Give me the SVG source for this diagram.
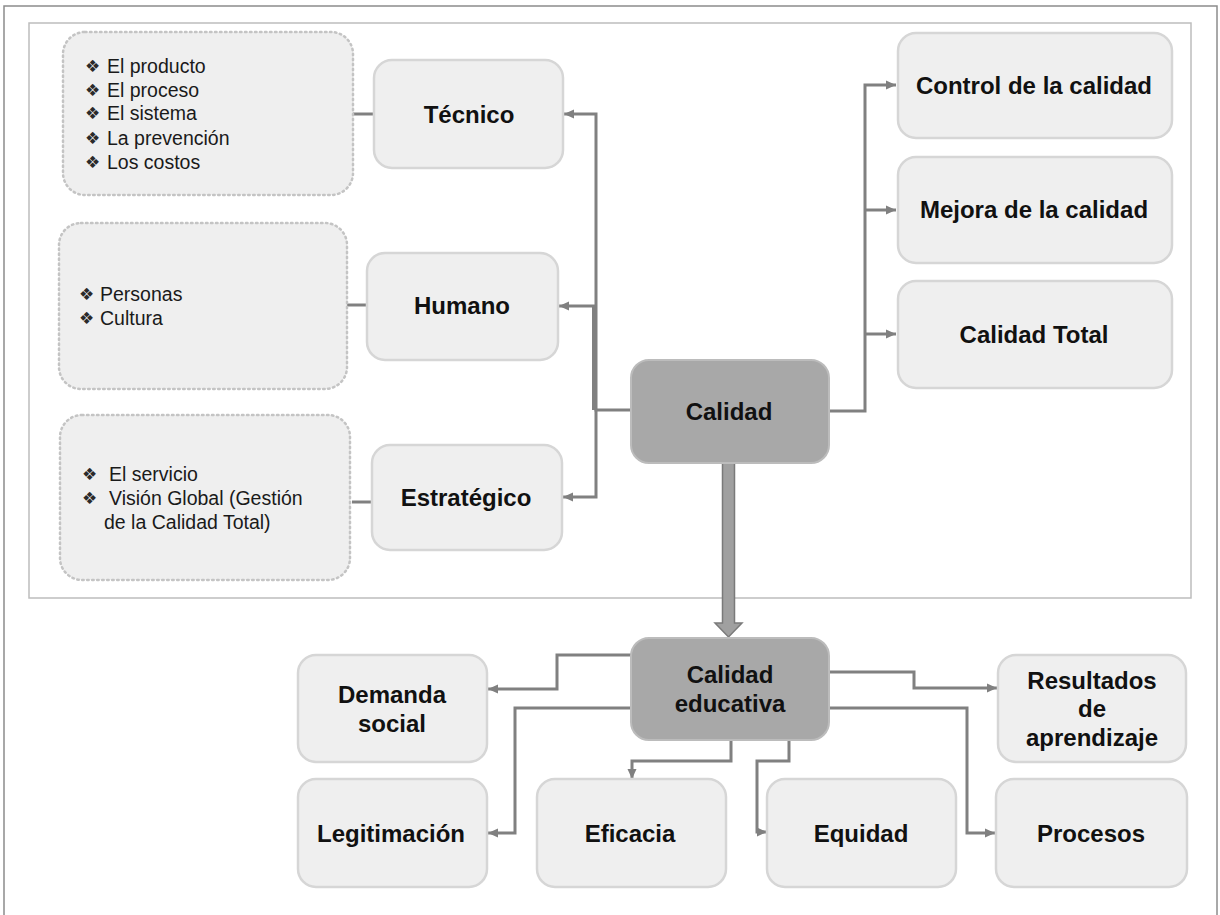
<svg xmlns="http://www.w3.org/2000/svg" width="1220" height="915" viewBox="0 0 1220 915">
  <style>
    .frame { fill: none; stroke: #8c8c8c; stroke-width: 1.5; }
    .panel { fill: none; stroke: #bdbdbd; stroke-width: 1.5; }
    .box { fill: #efefef; stroke: #d6d6d6; stroke-width: 2.5; }
    .dark { fill: #a8a8a8; stroke: #bcbcbc; stroke-width: 2; }
    .list { fill: #efefef; stroke: #c4c4c4; stroke-width: 2.5; stroke-dasharray: 1.5 3.5; stroke-linecap: round; }
    .lbl { font-family: "Liberation Sans", Arial, sans-serif; font-weight: bold; font-size: 24px; fill: #111; text-anchor: middle; }
    .item { font-family: "Liberation Sans", Arial, sans-serif; font-size: 19.5px; fill: #1a1a1a; }
    .b { font-family: "DejaVu Sans", sans-serif; font-size: 17px; fill: #2a2a2a; }
    .c { fill: none; stroke: #808080; stroke-width: 3; }
    .ca { fill: none; stroke: #808080; stroke-width: 3; marker-end: url(#tip); }
  </style>
  <defs>
    <marker id="tip" markerUnits="userSpaceOnUse" markerWidth="11" markerHeight="10" refX="10" refY="5" orient="auto">
      <path d="M0,0.5 L10,5 L0,9.5 z" fill="#808080"/>
    </marker>
  </defs>

  <rect width="1220" height="915" fill="#ffffff"/>
  <!-- outer frame and upper panel -->
  <rect class="frame" x="4" y="6" width="1213" height="915"/>
  <rect class="panel" x="29" y="23" width="1162" height="575"/>

  <!-- connectors -->
  <g id="connectors">
    <path class="c" d="M353,114 H374"/>
    <path class="c" d="M347,305 H367"/>
    <path class="c" d="M352,502 H372"/>
    <path class="ca" d="M631,410 H596 V114 H564"/>
    <path class="ca" d="M596,306 H559"/>
    <path class="c" d="M593.5,306 V410"/>
    <path class="ca" d="M596,410 V497 H563"/>
    <path class="ca" d="M829,411 H865 V85 H896"/>
    <path class="ca" d="M865,210 H896"/>
    <path class="ca" d="M865,334 H896"/>
    <!-- thick arrow down -->
    <path d="M722.5,463 V623 H715 L728.5,637 L742,623 H734.5 V463 Z" fill="#a0a0a0" stroke="#7a7a7a" stroke-width="1.5"/>
    <path class="ca" d="M631,655 H557 V689 H488"/>
    <path class="ca" d="M631,708 H515 V833 H488"/>
    <path class="ca" d="M731,740 V761 H632 V779"/>
    <path class="ca" d="M789,740 V761 H757 V832 H767"/>
    <path class="ca" d="M829,672 H914 V688 H997"/>
    <path class="ca" d="M829,708 H967 V833 H995"/>
  </g>

  <!-- lists -->
  <g id="list-tecnico">
    <rect class="list" x="63" y="32" width="290" height="163" rx="22"/>
    <text class="item"><tspan class="b" x="85" y="72">❖</tspan><tspan x="107" y="73">El producto</tspan></text>
    <text class="item"><tspan class="b" x="85" y="96">❖</tspan><tspan x="107" y="97">El proceso</tspan></text>
    <text class="item"><tspan class="b" x="85" y="119">❖</tspan><tspan x="107" y="120">El sistema</tspan></text>
    <text class="item"><tspan class="b" x="85" y="144">❖</tspan><tspan x="107" y="145">La prevención</tspan></text>
    <text class="item"><tspan class="b" x="85" y="168">❖</tspan><tspan x="107" y="169">Los costos</tspan></text>
  </g>
  <g id="list-humano">
    <rect class="list" x="59" y="223" width="288" height="166" rx="22"/>
    <text class="item"><tspan class="b" x="79" y="300">❖</tspan><tspan x="100" y="301">Personas</tspan></text>
    <text class="item"><tspan class="b" x="79" y="324">❖</tspan><tspan x="100" y="325">Cultura</tspan></text>
  </g>
  <g id="list-estrategico">
    <rect class="list" x="60" y="415" width="290" height="165" rx="22"/>
    <text class="item"><tspan class="b" x="82" y="480">❖</tspan><tspan x="109" y="481">El servicio</tspan></text>
    <text class="item"><tspan class="b" x="82" y="504">❖</tspan><tspan x="109" y="505">Visión Global (Gestión</tspan></text>
    <text class="item" x="104" y="529">de la Calidad Total)</text>
  </g>

  <!-- dimension nodes -->
  <g id="tecnico">
    <rect class="box" x="374" y="60" width="189" height="108" rx="18"/>
    <text class="lbl" x="469" y="122.5">Técnico</text>
  </g>
  <g id="humano">
    <rect class="box" x="367" y="253" width="191" height="107" rx="18"/>
    <text class="lbl" x="462" y="314">Humano</text>
  </g>
  <g id="estrategico">
    <rect class="box" x="372" y="445" width="190" height="105" rx="18"/>
    <text class="lbl" x="466" y="506">Estratégico</text>
  </g>

  <g id="calidad">
    <rect class="dark" x="631" y="360" width="198" height="103" rx="18"/>
    <text class="lbl" x="729" y="419.5">Calidad</text>
  </g>

  <g id="control">
    <rect class="box" x="898" y="33" width="274" height="105" rx="18"/>
    <text class="lbl" x="1034" y="93.5">Control de la calidad</text>
  </g>
  <g id="mejora">
    <rect class="box" x="898" y="157" width="274" height="106" rx="18"/>
    <text class="lbl" x="1034" y="218">Mejora de la calidad</text>
  </g>
  <g id="total">
    <rect class="box" x="898" y="281" width="274" height="107" rx="18"/>
    <text class="lbl" x="1034" y="342.5">Calidad Total</text>
  </g>

  <!-- lower tree -->
  <g id="calidad-educativa">
    <rect class="dark" x="631" y="638" width="198" height="102" rx="18"/>
    <text class="lbl" x="730" y="682.5">Calidad</text>
    <text class="lbl" x="730" y="711.5">educativa</text>
  </g>
  <g id="demanda">
    <rect class="box" x="298" y="655" width="189" height="107" rx="18"/>
    <text class="lbl" x="392" y="702.5">Demanda</text>
    <text class="lbl" x="392" y="731.5">social</text>
  </g>
  <g id="legitimacion">
    <rect class="box" x="298" y="779" width="189" height="108" rx="18"/>
    <text class="lbl" x="391" y="841.5">Legitimación</text>
  </g>
  <g id="eficacia">
    <rect class="box" x="537" y="779" width="189" height="108" rx="18"/>
    <text class="lbl" x="630" y="841.5">Eficacia</text>
  </g>
  <g id="equidad">
    <rect class="box" x="767" y="779" width="189" height="108" rx="18"/>
    <text class="lbl" x="861" y="841.5">Equidad</text>
  </g>
  <g id="resultados">
    <rect class="box" x="998" y="655" width="188" height="107" rx="18"/>
    <text class="lbl" x="1092" y="688.5">Resultados</text>
    <text class="lbl" x="1092" y="716.5">de</text>
    <text class="lbl" x="1092" y="745.5">aprendizaje</text>
  </g>
  <g id="procesos">
    <rect class="box" x="996" y="779" width="191" height="108" rx="18"/>
    <text class="lbl" x="1091" y="841.5">Procesos</text>
  </g>
</svg>
